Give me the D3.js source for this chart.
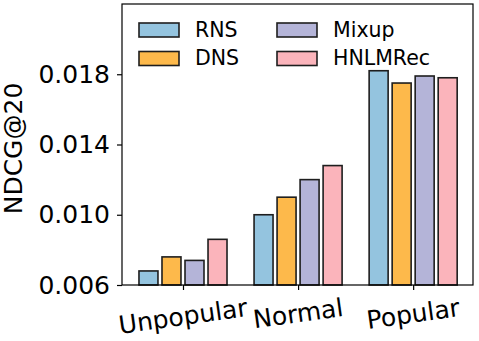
<!DOCTYPE html>
<html>
<head>
<meta charset="utf-8">
<script src="https://cdn.jsdelivr.net/npm/d3@7"></script>
<style>
  body { margin: 0; background: #fff; }
  svg { display: block; font-family: "DejaVu Sans", sans-serif; }
</style>
</head>
<body>
<div id="chart"></div>
<script>
// Data
const categories = ['Unpopular', 'Normal', 'Popular'];
const methods = ['RNS', 'DNS', 'Mixup', 'HNLMRec'];
const rnsValues = [0.0068, 0.0100, 0.0182];
const dnsValues = [0.0076, 0.0110, 0.0175];
const mixupValues = [0.0074, 0.0120, 0.0179];
const hnlmrecValues = [0.0086, 0.0128, 0.0178];
const yTicks = [0.006, 0.010, 0.014, 0.018];
const colors = ['#94c4df', '#fdb94b', '#b4b4d8', '#fbb4bb'];

const series = [rnsValues, dnsValues, mixupValues, hnlmrecValues];

const width = 479, height = 341;
const margin = { top: 4, right: 6, bottom: 56, left: 122 };

const svg = d3.select('#chart').append('svg')
    .attr('width', width)
    .attr('height', height);

const x = d3.scaleLinear()
    .domain([-0.53, 2.52])
    .range([margin.left, width - margin.right]);

const y = d3.scaleLinear()
    .domain([0.006, 0.022])
    .range([height - margin.bottom, margin.top]);

const slot = 0.2, barW = 0.165;

// Bars
series.forEach((vals, i) => {
    svg.append('g')
        .selectAll('rect')
        .data(vals)
        .join('rect')
        .attr('x', (d, j) => x(j + (i - 1.5) * slot - barW / 2))
        .attr('width', x(barW) - x(0))
        .attr('y', d => y(d))
        .attr('height', d => y(0.006) - y(d))
        .attr('fill', colors[i])
        .attr('stroke', '#1e1e1e')
        .attr('stroke-width', 1.6);
});

// Frame
svg.append('rect')
    .attr('x', margin.left)
    .attr('y', margin.top)
    .attr('width', width - margin.left - margin.right)
    .attr('height', height - margin.top - margin.bottom)
    .attr('fill', 'none')
    .attr('stroke', '#000')
    .attr('stroke-width', 1.2);

// Y axis
const yAxis = svg.append('g')
    .attr('transform', `translate(${margin.left},0)`)
    .call(d3.axisLeft(y).tickValues(yTicks).tickFormat(d3.format('.3f')).tickSize(5).tickPadding(7));
yAxis.select('.domain').remove();
yAxis.selectAll('line').attr('stroke', '#000').attr('stroke-width', 1.2);
yAxis.selectAll('text')
    .attr('font-size', 25)
    .attr('font-family', '"DejaVu Sans", sans-serif')
    .attr('fill', '#000');

// X axis
const xAxis = svg.append('g')
    .attr('transform', `translate(0,${height - margin.bottom})`)
    .call(d3.axisBottom(x).tickValues([0, 1, 2]).tickFormat(d => categories[d]).tickSize(5));
xAxis.select('.domain').remove();
xAxis.selectAll('line').attr('stroke', '#000').attr('stroke-width', 1.2);
xAxis.selectAll('text').remove();

// Rotated category labels, bbox top aligned below the ticks
categories.forEach((c, i) => {
    const t = svg.append('text')
        .attr('font-size', 25)
        .attr('text-anchor', 'middle')
        .attr('dy', '0.35em')
        .attr('transform', `translate(${x(i)},300) rotate(-8)`)
        .text(c);
    const b = t.node().getBoundingClientRect();
    const shift = 293 - b.top;
    t.attr('transform', `translate(${x(i)},${300 + shift}) rotate(-8)`);
});

// Y label
svg.append('text')
    .attr('font-size', 25)
    .attr('text-anchor', 'middle')
    .attr('transform', `translate(22,${(margin.top + height - margin.bottom) / 2 + 4}) rotate(-90)`)
    .text('NDCG@20');

// Legend (no frame)
const legend = svg.append('g');
const legendPos = [[139, 23], [277, 23], [139, 51.5], [277, 51.5]];
const order = [0, 2, 1, 3];
order.forEach((mi, k) => {
    const [lx, ly] = legendPos[k];
    legend.append('rect')
        .attr('x', lx).attr('y', ly)
        .attr('width', 40).attr('height', 14)
        .attr('fill', colors[mi])
        .attr('stroke', '#1e1e1e')
        .attr('stroke-width', 1.6);
    legend.append('text')
        .attr('x', lx + 56)
        .attr('y', ly + 13.5)
        .attr('font-size', 20.5)
        .text(methods[mi]);
});
</script>
</body>
</html>
